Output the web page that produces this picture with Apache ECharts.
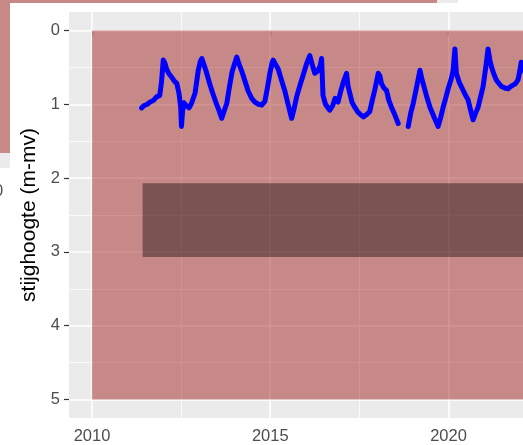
<!DOCTYPE html>
<html><head><meta charset="utf-8">
<script src="https://cdn.jsdelivr.net/npm/echarts@6/dist/echarts.min.js"></script>
<style>html,body{margin:0;padding:0;background:#fff}#c{width:523px;height:445px}</style>
</head><body><div id="c"></div>
<script>
// decimal years of measurements
const dates = [
2011.39,2011.45,2011.55,2011.63,2011.72,2011.81,2011.90,2011.95,2012.00,2012.05,2012.09,2012.15,2012.23,2012.30,2012.38,2012.44,2012.49,2012.51,2012.54,2012.58,2012.65,2012.72,2012.79,2012.89,2012.95,2012.98,
2013.04,2013.08,2013.13,2013.20,2013.30,2013.38,2013.48,2013.56,2013.64,2013.70,2013.78,2013.86,2013.93,2014.00,2014.06,2014.12,2014.20,2014.30,2014.38,2014.48,2014.57,2014.67,2014.76,2014.85,2014.92,2014.99,
2015.05,2015.08,2015.15,2015.22,2015.32,2015.41,2015.50,2015.60,2015.66,2015.74,2015.83,2015.92,2016.02,2016.11,2016.17,2016.25,2016.33,2016.40,2016.44,2016.48,2016.55,2016.62,2016.67,2016.75,2016.82,2016.86,2016.90,2016.98,
2017.05,2017.14,2017.18,2017.23,2017.30,2017.37,2017.45,2017.53,2017.61,2017.70,2017.79,2017.86,2017.93,2018.03,2018.08,2018.12,2018.19,2018.26,2018.33,2018.40,2018.50,2018.59,2018.73,
2018.87,2018.94,2019.01,2019.10,2019.20,2019.25,2019.29,2019.38,2019.48,2019.60,2019.71,2019.78,2019.85,2019.92,2019.99,2020.08,2020.13,2020.18,2020.22,2020.30,2020.41,2020.48,2020.55,2020.62,2020.69,2020.76,2020.83,2020.90,2020.97,
2021.06,2021.11,2021.16,2021.21,2021.28,2021.34,2021.42,2021.49,2021.58,2021.67,2021.74,2021.81,2021.88,2021.95,2022.00,2022.04,2022.10,2022.20];
// groundwater level (m below surface), null = no measurements
const levels = [
1.05,1.02,1.00,0.97,0.95,0.90,0.88,0.70,0.40,0.45,0.52,0.58,0.63,0.68,0.72,0.85,1.05,1.30,1.10,0.98,1.02,1.05,0.99,0.85,0.65,0.54,
0.42,0.38,0.45,0.55,0.72,0.84,0.98,1.08,1.19,1.10,0.99,0.75,0.56,0.45,0.36,0.45,0.55,0.70,0.82,0.92,0.97,1.00,1.01,0.96,0.78,0.58,
0.44,0.40,0.46,0.52,0.68,0.82,1.00,1.19,1.08,0.90,0.75,0.61,0.45,0.34,0.45,0.58,0.55,0.48,0.38,0.88,1.00,1.05,1.08,1.02,0.92,0.92,0.97,0.82,
0.70,0.58,0.75,0.85,0.98,1.04,1.10,1.14,1.17,1.14,1.10,0.95,0.81,0.58,0.62,0.72,0.78,0.81,0.95,1.04,1.15,1.26,null,
1.30,1.12,0.99,0.78,0.54,0.65,0.72,0.88,1.04,1.18,1.30,1.18,1.04,0.92,0.79,0.65,0.54,0.25,0.58,0.70,0.81,0.88,0.94,1.08,1.21,1.12,1.04,0.90,0.76,
0.45,0.25,0.40,0.50,0.60,0.67,0.72,0.76,0.78,0.79,0.76,0.74,0.72,0.67,0.55,0.43,0.50,0.65];
const xTicks = [2010, 2015, 2020];
const xMinor = [2012.5, 2017.5, 2022.5];
const yTicks = [0, 1, 2, 3, 4, 5];
const yMinor = [0.5, 1.5, 2.5, 3.5, 4.5];
// [xmin, xmax, ymin, ymax]
const outerBand = [2010, 2023, 0, 5];
const innerBand = [2011.42, 2023, 2.07, 3.07];
const xRange = [2009.355, 2022.09];
const yRange = [-0.25, 5.25];

const FONT = "'Liberation Sans', Arial, sans-serif";
const lineData = dates.map((d, i) => levels[i] == null ? [d, '-'] : [d, levels[i]]);

function rectItem(params, api) {
  const p0 = api.coord([api.value(0), api.value(2)]);
  const p1 = api.coord([api.value(1), api.value(3)]);
  return {type: 'rect', shape: {x: p0[0], y: p0[1], width: p1[0] - p0[0], height: p1[1] - p0[1]},
    style: {fill: api.visual('color')}};
}

const gridLines = [];
xTicks.forEach(v => gridLines.push({xAxis: v, lineStyle: {color: '#fff', width: 1.6, type: 'solid'}}));
xMinor.forEach(v => gridLines.push({xAxis: v, lineStyle: {color: '#fff', width: 0.8, type: 'solid'}}));
yTicks.forEach(v => gridLines.push({yAxis: v, lineStyle: {color: '#fff', width: 1.6, type: 'solid'}}));
yMinor.forEach(v => gridLines.push({yAxis: v, lineStyle: {color: '#fff', width: 0.8, type: 'solid'}}));

const chart = echarts.init(document.getElementById('c'), null, {renderer: 'canvas'});
chart.setOption({
  animation: false,
  backgroundColor: '#fff',
  grid: {left: 69, top: 12, right: 0, bottom: 26, show: true, backgroundColor: '#EBEBEB', borderWidth: 0},
  xAxis: {
    type: 'value', min: xRange[0], max: xRange[1],
    axisLine: {show: false},
    axisTick: {show: true, length: 5, lineStyle: {color: '#333', width: 1.2}, customValues: xTicks},
    axisLabel: {customValues: xTicks, formatter: v => String(v), color: '#4D4D4D', fontSize: 16.5, fontFamily: FONT, margin: 10},
    splitLine: {show: false}
  },
  yAxis: {
    type: 'value', inverse: true, min: yRange[0], max: yRange[1],
    name: 'stijghoogte (m-mv)', nameLocation: 'middle', nameGap: 26,
    nameTextStyle: {color: '#000', fontSize: 21, fontFamily: FONT},
    axisLine: {show: false},
    axisTick: {show: true, length: 5, lineStyle: {color: '#333', width: 1.2}, customValues: yTicks},
    axisLabel: {customValues: yTicks, formatter: v => String(v), color: '#4D4D4D', fontSize: 16.5, fontFamily: FONT, margin: 9},
    splitLine: {show: false}
  },
  series: [
    {type: 'line', data: [], silent: true,
     markLine: {silent: true, symbol: 'none', z: 1, label: {show: false}, animation: false, data: gridLines}},
    {type: 'custom', renderItem: rectItem, data: [outerBand], z: 2, silent: true,
     itemStyle: {color: 'rgba(150,0,0,0.42)'}},
    {type: 'custom', renderItem: rectItem, data: [innerBand], z: 3, silent: true,
     itemStyle: {color: 'rgba(0,0,0,0.39)'}},
    {type: 'line', data: lineData, z: 4, showSymbol: false, connectNulls: false,
     lineStyle: {color: '#0000FF', width: 5, join: 'round', cap: 'round'}}
  ],
  graphic: [
    {type: 'rect', z: -10, shape: {x: 0, y: 0, width: 10, height: 153}, style: {fill: 'rgb(199,136,136)'}},
    {type: 'rect', z: -10, shape: {x: 0, y: 153, width: 10, height: 15}, style: {fill: '#EBEBEB'}},
    {type: 'rect', z: -10, shape: {x: 0, y: 0, width: 437, height: 3}, style: {fill: 'rgb(199,136,136)'}},
    {type: 'rect', z: -10, shape: {x: 437, y: 0, width: 21, height: 3}, style: {fill: '#EBEBEB'}},
    {type: 'text', z: -10, x: -6, y: 183, style: {text: '0', fontSize: 16.5, fontFamily: FONT, fill: '#4D4D4D'}}
  ]
});
</script></body></html>
